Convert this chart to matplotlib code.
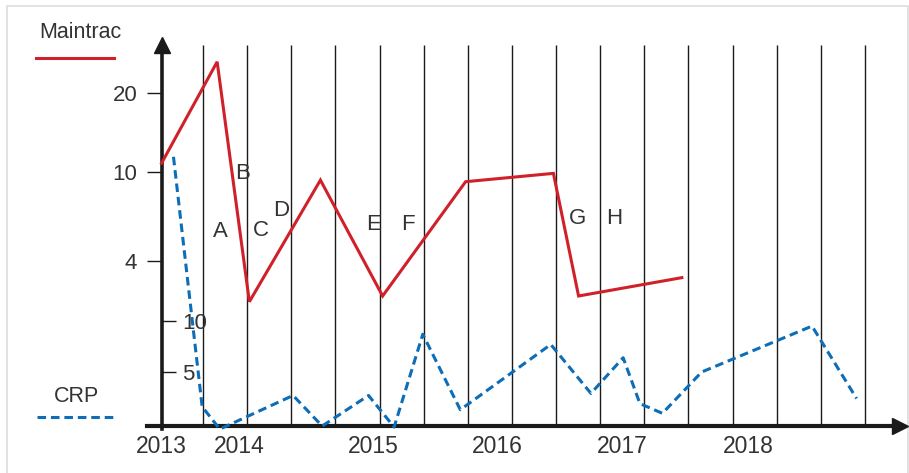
import numpy as np
import matplotlib
matplotlib.use("Agg")
import matplotlib.pyplot as plt
from matplotlib.patches import Rectangle
from matplotlib.ticker import NullLocator

plt.rcParams['font.family'] = ['Liberation Sans', 'DejaVu Sans']

## data (x in grid steps, one step between two vertical lines)
grid_x = np.arange(1, 17)
year_labels = ['2013', '2014', '2015', '2016', '2017', '2018']
year_x = [0.05, 1.82, 4.85, 7.66, 10.49, 13.35]

maintrac_x = [0.06, 1.32, 2.05, 3.66, 5.07, 6.95, 8.94, 9.51, 11.85]
maintrac_y = [10.8, 26.3, 2.63, 9.2, 2.79, 9.05, 9.86, 2.79, 3.37]
maintrac_ticks = [4, 10, 20]

crp_x = [0.33, 0.98, 1.38, 3.04, 3.70, 4.75, 5.33, 5.98, 6.83, 8.88,
         9.79, 10.52, 10.90, 11.41, 12.30, 14.80, 15.81]
crp_y = [26.1, 1.6, -0.6, 2.7, -0.3, 2.7, -0.4, 8.7, 1.3, 7.7,
         2.9, 6.4, 1.9, 0.95, 5.0, 9.5, 2.4]
crp_ticks = [5, 10]

event_labels = ['A', 'B', 'C', 'D', 'E', 'F', 'G', 'H']
event_x = [1.40, 1.90, 2.31, 2.77, 4.86, 5.64, 9.49, 10.31]
event_y = [5.4, 9.86, 5.5, 6.7, 5.8, 5.8, 6.2, 6.2]

RED = '#d0202a'
BLUE = '#0d6db7'
INK = '#1a1a1a'
TXT = '#333333'
Y_AXIS = 0.06
X_AXIS = -0.29

## Maintrac axis: spacing 4-10 and 10-20 are not log nor linear
LV = np.log10([0.1, 4, 10, 20, 300])
s_lo = 89 / (LV[2] - LV[1])
s_hi = 79 / (LV[3] - LV[2])
POS = np.array([-(LV[1] - LV[0]) * s_lo, 0, 89, 168, 168 + (LV[4] - LV[3]) * s_hi])

def m_fwd(v):
    v = np.clip(np.asarray(v, dtype=float), 0.1, 300)
    return np.interp(np.log10(v), LV, POS)

def m_inv(s):
    return 10 ** np.interp(np.asarray(s, dtype=float), POS, LV)


fig = plt.figure(figsize=(9.09, 4.73), dpi=100)
ax = fig.add_axes([0, 0, 1, 1])
ax.set_xlim(-158.9 / 44.13, (909 - 158.9) / 44.13)
ax.set_ylim(-50 / 10.2, 423 / 10.2)

ax2 = ax.twinx()
ax2.set_yscale('function', functions=(m_fwd, m_inv))
ax2.set_ylim(m_inv(-212), m_inv(261))

# vertical grid
ax.vlines(grid_x, X_AXIS, 37.06, color=INK, lw=1.0, zorder=1)

# axes
for sp in ['top', 'right']:
    ax.spines[sp].set_visible(False)
ax.spines['left'].set_position(('data', Y_AXIS))
ax.spines['left'].set_bounds(-0.6, 36.6)
ax.spines['left'].set_linewidth(2.6)
ax.spines['left'].set_color(INK)
ax.spines['bottom'].set_position(('data', X_AXIS))
ax.spines['bottom'].set_bounds(-0.27, 16.65)
ax.spines['bottom'].set_linewidth(3.0)
ax.spines['bottom'].set_color(INK)
ax.plot(Y_AXIS, 37.1, marker='^', ms=11, color=INK, clip_on=False, zorder=5)
ax.plot(16.79, X_AXIS, marker='>', ms=11, color=INK, clip_on=False, zorder=5)

ax.set_xticks(year_x, labels=year_labels)
ax.tick_params(axis='x', length=0, pad=6.5, labelsize=16.5, labelcolor=TXT)

ax.set_yticks(crp_ticks, labels=[str(t) for t in crp_ticks])
ax.tick_params(axis='y', direction='in', length=10, width=1.0, color=INK,
               pad=-14.6, labelsize=16, labelcolor=TXT)
for lab in ax.get_yticklabels():
    lab.set_horizontalalignment('left')

for sp in ['top', 'right', 'bottom']:
    ax2.spines[sp].set_visible(False)
ax2.spines['left'].set_position(('data', Y_AXIS))
ax2.spines['left'].set_visible(False)
ax2.yaxis.tick_left()
ax2.set_yticks(maintrac_ticks, labels=[str(t) for t in maintrac_ticks])
ax2.yaxis.set_minor_locator(NullLocator())
ax2.tick_params(axis='y', direction='out', length=11, width=1.0, color=INK,
                pad=6.5, labelsize=16, labelcolor=TXT)

# series
ax.plot(crp_x, crp_y, color=BLUE, lw=2.2, linestyle=(0, (2.8, 1.6)),
        clip_on=False, zorder=3)
ax2.plot(maintrac_x, maintrac_y, color=RED, lw=2.2,
         solid_joinstyle='miter', clip_on=False, zorder=3)

for lab, x, y in zip(event_labels, event_x, event_y):
    ax2.text(x, y, lab, ha='center', va='center', fontsize=16, color=TXT)

# legend, drawn by hand like the original
ax.text(39 / 909, 1 - 32 / 473, 'Maintrac', transform=ax.transAxes,
        ha='left', va='center', fontsize=15.5, color=TXT)
ax.plot([36 / 909, 114 / 909], [1 - 58 / 473] * 2, transform=ax.transAxes,
        color=RED, lw=2.2, clip_on=False)
ax.text(54 / 909, 1 - 397 / 473, 'CRP', transform=ax.transAxes,
        ha='left', va='center', fontsize=15.5, color=TXT)
ax.plot([37 / 909, 116 / 909], [1 - 416.7 / 473] * 2, transform=ax.transAxes,
        color=BLUE, lw=2.2, linestyle=(0, (2.8, 1.6)), clip_on=False)

# light frame
ax.add_patch(Rectangle((6.5 / 909, -0.1), (908 - 6.5) / 909, 1.1 - 6.5 / 473,
                       transform=ax.transAxes, fill=False, edgecolor='#dddddd',
                       lw=1.2, clip_on=False))

fig.savefig('out.png', dpi=100)
